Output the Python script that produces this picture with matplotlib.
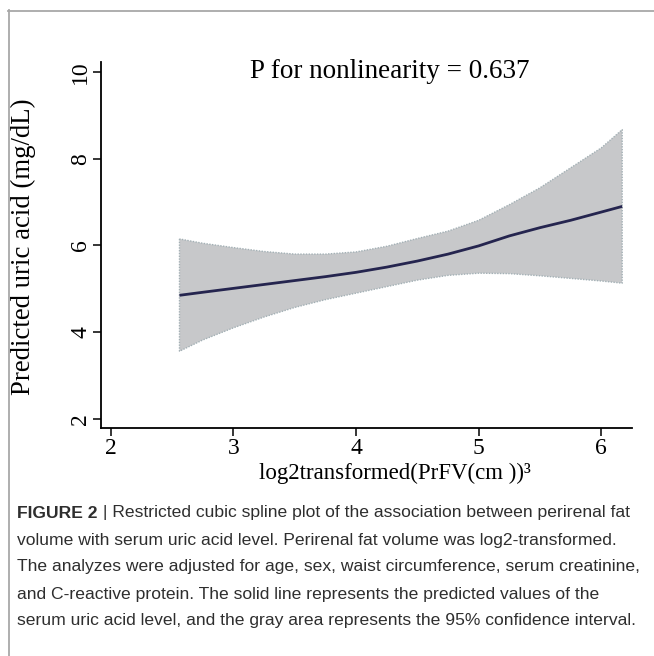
import matplotlib
matplotlib.use("Agg")
import matplotlib.pyplot as plt
from matplotlib.lines import Line2D

# ---- data ----
x_vals = [2.56, 2.75, 3.0, 3.25, 3.5, 3.75, 4.0, 4.25, 4.5, 4.75, 5.0, 5.25, 5.5, 5.75, 6.0, 6.17]
pred   = [4.85, 4.92, 5.01, 5.10, 5.19, 5.28, 5.38, 5.50, 5.64, 5.80, 5.99, 6.22, 6.41, 6.58, 6.77, 6.90]
upper  = [6.15, 6.05, 5.95, 5.86, 5.80, 5.80, 5.85, 5.98, 6.16, 6.33, 6.58, 6.94, 7.33, 7.79, 8.25, 8.67]
lower  = [3.56, 3.82, 4.10, 4.35, 4.57, 4.75, 4.90, 5.05, 5.20, 5.31, 5.36, 5.35, 5.30, 5.24, 5.18, 5.13]
x_ticks = [2, 3, 4, 5, 6]
y_ticks = [2, 4, 6, 8, 10]
title_text = "P for nonlinearity = 0.637"
xlabel_text = "log2transformed(PrFV(cm ))\u00b3"
ylabel_text = "Predicted uric acid (mg/dL)"
caption_bold = "FIGURE 2"
caption_lines = [
    " | Restricted cubic spline plot of the association between perirenal fat",
    "volume with serum uric acid level. Perirenal fat volume was log2-transformed.",
    "The analyzes were adjusted for age, sex, waist circumference, serum creatinine,",
    "and C-reactive protein. The solid line represents the predicted values of the",
    "serum uric acid level, and the gray area represents the 95% confidence interval.",
]

W, H = 654, 656
fig = plt.figure(figsize=(W / 100, H / 100), dpi=100)
fig.patch.set_facecolor("white")

serif = "Liberation Serif"
tick_fs = 17
title_fs = 19.5
xlab_fs = 16.5
ylab_fs = 19.3

ax = fig.add_axes([101 / W, (H - 428) / H, (632 - 101) / W, (428 - 62) / H])
ax.fill_between(x_vals, lower, upper, facecolor="#c7c8ca", edgecolor="#a3b0b5",
                linewidth=1.0, linestyle=(0, (1, 1)))
ax.plot(x_vals, pred, color="#25254f", lw=2.0, solid_capstyle="butt")

ax.set_xlim(1.92, 6.25)
ax.set_ylim(1.79, 10.23)
ax.set_xticks(x_ticks)
ax.set_yticks(y_ticks)
for s in ["top", "right"]:
    ax.spines[s].set_visible(False)
for s in ["left", "bottom"]:
    ax.spines[s].set_linewidth(1.3)
    ax.spines[s].set_color("black")
ax.tick_params(axis="both", direction="out", length=6, width=1.1, labelsize=tick_fs)
ax.tick_params(axis="x", pad=1)
ax.tick_params(axis="y", pad=1)
for lab in ax.get_xticklabels() + ax.get_yticklabels():
    lab.set_fontfamily(serif)
for lab in ax.get_yticklabels():
    lab.set_rotation(90)
    lab.set_va("center")

ax.text(0.544, 0.973, title_text, transform=ax.transAxes, ha="center",
        va="center", fontsize=title_fs, family=serif)

fig.text(395 / W, 1 - 473 / H, xlabel_text, ha="center", va="center",
         fontsize=xlab_fs, family=serif)
fig.text(23 / W, 1 - 247 / H, ylabel_text, ha="center", va="center",
         rotation=90, fontsize=ylab_fs, family=serif)

# border
fig.add_artist(Line2D([8.5 / W, 8.5 / W], [0, 1 - 10 / H], transform=fig.transFigure,
                      color="#a8a8a8", lw=1.3))
fig.add_artist(Line2D([8 / W, 1], [1 - 10.5 / H, 1 - 10.5 / H], transform=fig.transFigure,
                      color="#a8a8a8", lw=1.3))

# caption
cap_font = "Liberation Sans"
cfs = 12.6
ccol = "#2e2e2e"
x0 = 17 / W
y_lines = [513, 540, 567, 594, 621]
fig.canvas.draw()
r = fig.canvas.get_renderer()
tb = fig.text(x0, 1 - y_lines[0] / H, caption_bold, ha="left", va="center",
              fontsize=cfs, family=cap_font, weight="bold", color=ccol)
bb = tb.get_window_extent(renderer=r)
fig.text(bb.x1 / W, 1 - y_lines[0] / H, caption_lines[0], ha="left", va="center",
         fontsize=cfs, family=cap_font, color=ccol)
for yl, line in zip(y_lines[1:], caption_lines[1:]):
    fig.text(x0, 1 - yl / H, line, ha="left", va="center", fontsize=cfs,
             family=cap_font, color=ccol)

fig.savefig("out.png", dpi=100, facecolor="white")
